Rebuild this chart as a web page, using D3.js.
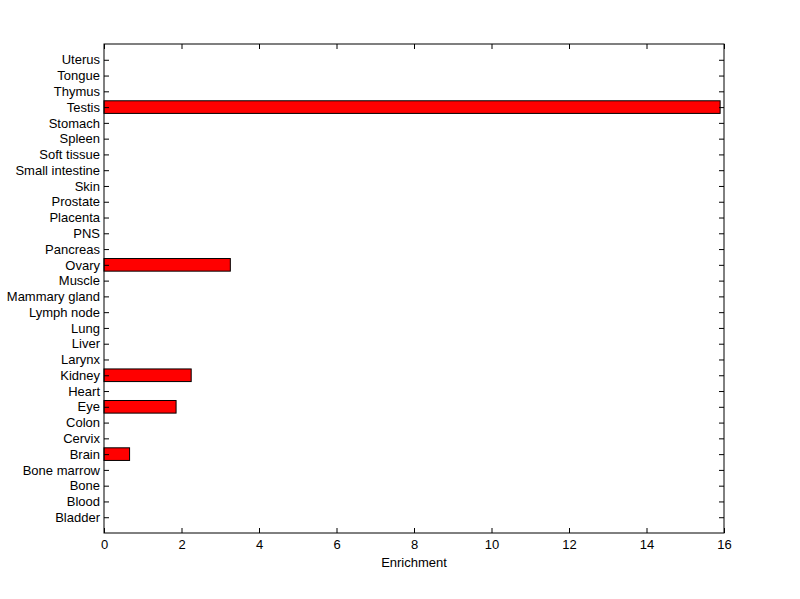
<!DOCTYPE html>
<html><head><meta charset="utf-8">
<script src="https://cdn.jsdelivr.net/npm/d3@7"></script>
<style>body{margin:0;background:#fff}svg{display:block}text{font-family:"Liberation Sans",Arial,sans-serif;font-size:13px;fill:#000}</style>
</head><body>
<script>
const categories = ["Bladder","Blood","Bone","Bone marrow","Brain","Cervix","Colon","Eye","Heart","Kidney","Larynx","Liver","Lung","Lymph node","Mammary gland","Muscle","Ovary","Pancreas","PNS","Placenta","Prostate","Skin","Small intestine","Soft tissue","Spleen","Stomach","Testis","Thymus","Tongue","Uterus"];
const values = [0,0,0,0,0.66,0,0,1.86,0,2.25,0,0,0,0,0,0,3.26,0,0,0,0,0,0,0,0,0,15.9,0,0,0];
const xTicks = [0,2,4,6,8,10,12,14,16];

const W=800,H=599, L=104, R=724, T=44, B=533;
const svg=d3.select("body").append("svg").attr("width",W).attr("height",H);
const x=d3.scaleLinear().domain([0,16]).range([L,R]);
const y=d3.scaleLinear().domain([0,categories.length+1]).range([B,T]);
const bw = (y(0)-y(1))*0.8;

svg.append("g").selectAll("rect").data(values.map((v,i)=>({v,i}))).join("rect")
  .filter(d=>d.v>0)
  .attr("x",x(0)).attr("y",d=>y(d.i+1)-bw/2)
  .attr("width",d=>x(d.v)-x(0)).attr("height",bw)
  .attr("fill","#ff0000").attr("stroke","#000").attr("stroke-width",1);

const yAxisL=d3.axisLeft(y).tickValues(d3.range(1,categories.length+1)).tickSize(-5).tickPadding(4).tickFormat(d=>categories[d-1]);
const gl=svg.append("g").attr("transform",`translate(${L},0)`).call(yAxisL);
const yAxisR=d3.axisRight(y).tickValues(d3.range(1,categories.length+1)).tickSize(-5).tickFormat("");
const gr=svg.append("g").attr("transform",`translate(${R},0)`).call(yAxisR);
const xAxisB=d3.axisBottom(x).tickValues(xTicks).tickSize(-5).tickPadding(7).tickFormat(d3.format("d"));
const gb=svg.append("g").attr("transform",`translate(0,${B})`).call(xAxisB);
const xAxisT=d3.axisTop(x).tickValues(xTicks).tickSize(-5).tickFormat("");
const gt=svg.append("g").attr("transform",`translate(0,${T})`).call(xAxisT);
[gl,gr,gb,gt].forEach(g=>{g.select(".domain").remove();g.selectAll("line").attr("stroke","#000");g.selectAll("text").attr("font-size",null).attr("font-family",null).attr("fill","#000");});
gb.selectAll("text").attr("dy","0.71em");

svg.append("rect").attr("x",L).attr("y",T).attr("width",R-L).attr("height",B-T).attr("fill","none").attr("stroke","#000").attr("stroke-width",1);

svg.append("text").attr("x",(L+R)/2).attr("y",567).attr("text-anchor","middle").text("Enrichment");
</script>
</body></html>
